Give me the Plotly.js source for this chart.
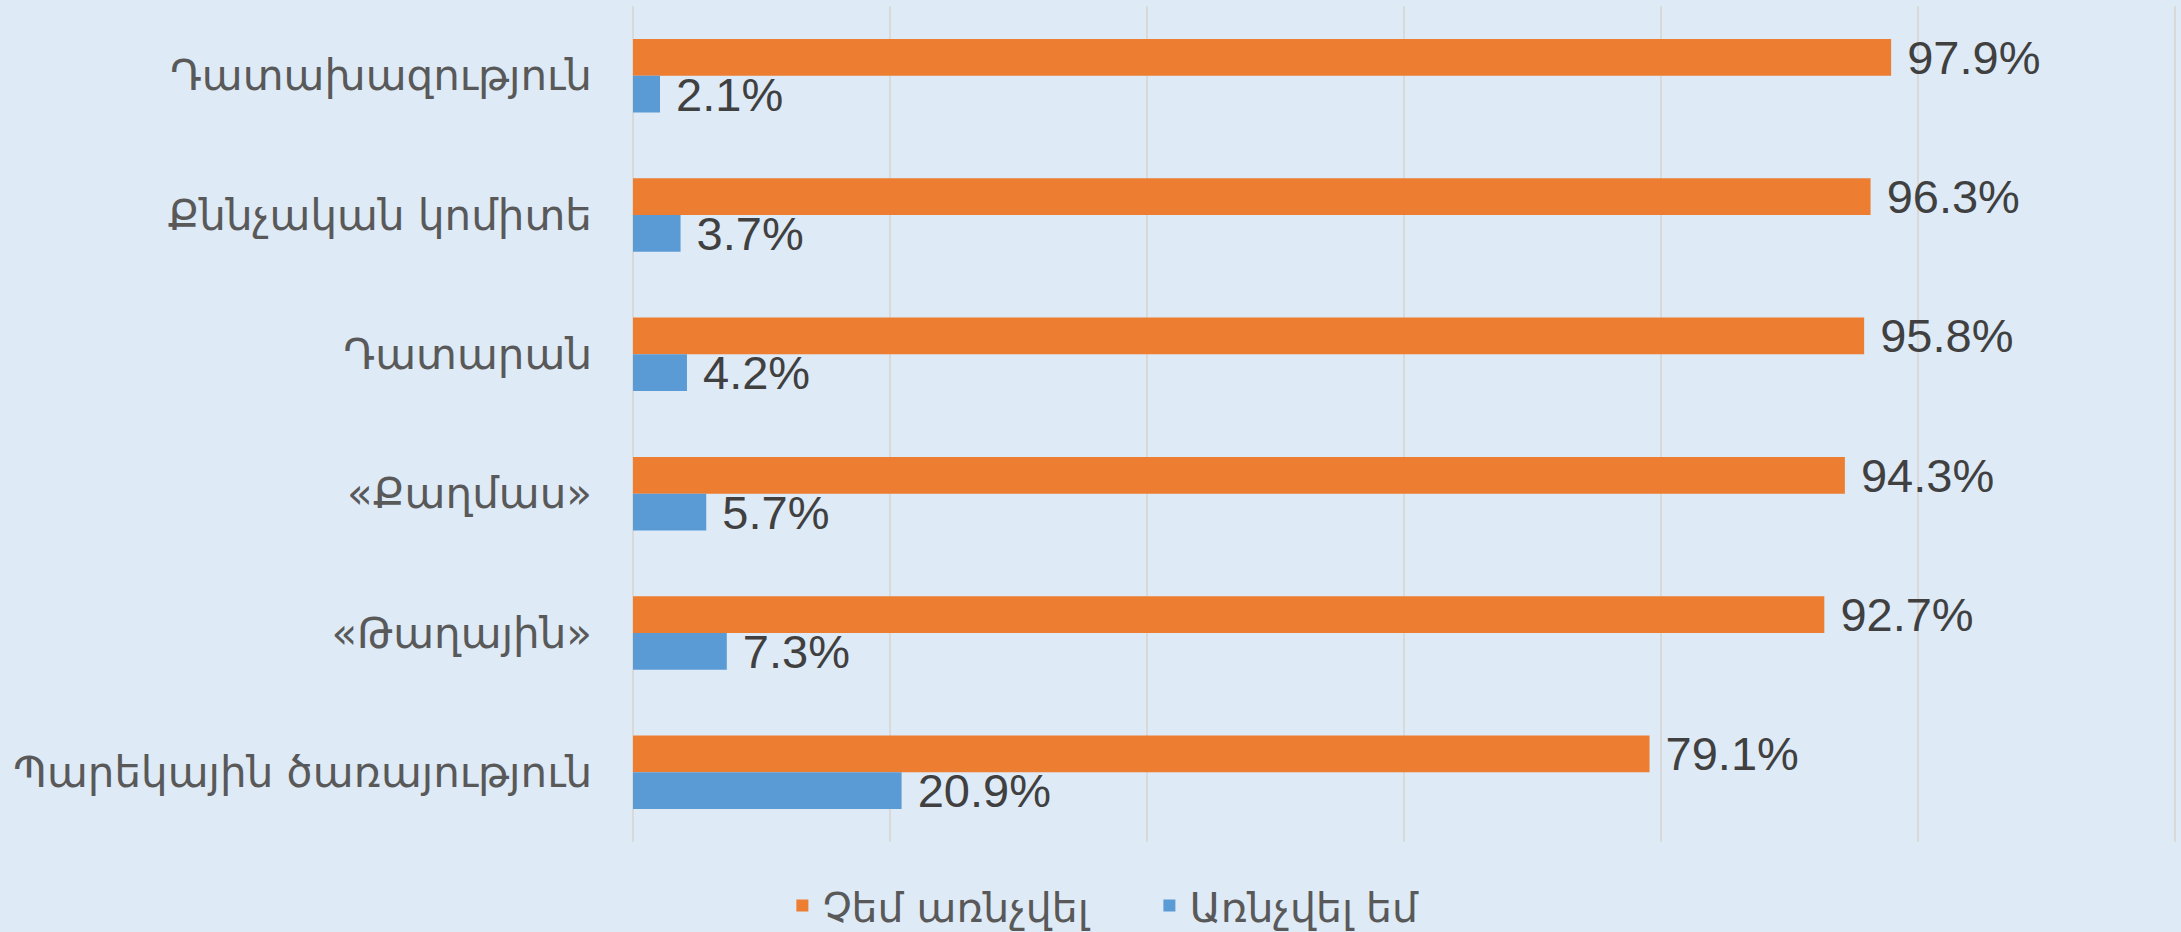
<!DOCTYPE html>
<html>
<head>
<meta charset="utf-8">
<script src="https://cdn.plot.ly/plotly-3.0.1.min.js"></script>
<style>html,body{margin:0;padding:0;background:#DEEAF6;}</style>
</head>
<body>
<div id="chart" style="width:2181px;height:932px;"></div>
<script>
const categories = [
  "Դատախազություն",
  "Քննչական կոմիտե",
  "Դատարան",
  "«Քաղմաս»",
  "«Թաղային»",
  "Պարեկային ծառայություն"
];
const seriesNames = ["Չեմ առնչվել", "Առնչվել եմ"];
const notContacted = [97.9, 96.3, 95.8, 94.3, 92.7, 79.1];
const contacted = [2.1, 3.7, 4.2, 5.7, 7.3, 20.9];

const labelFont = {family: "Liberation Sans, Arial, sans-serif", size: 47, color: "#404040"};
const catFont = "DejaVu Sans, Noto Sans, sans-serif";

const traces = [
  {
    type: "bar", orientation: "h", name: seriesNames[0],
    y: categories, x: notContacted,
    marker: {color: "#ED7D31"},
    texttemplate: "\u00a0%{x:.1f}%", textposition: "outside",
    constraintext: "none", cliponaxis: false,
    textfont: labelFont, hoverinfo: "skip"
  },
  {
    type: "bar", orientation: "h", name: seriesNames[1],
    y: categories, x: contacted,
    marker: {color: "#5B9BD5"},
    texttemplate: "\u00a0%{x:.1f}%", textposition: "outside",
    constraintext: "none", cliponaxis: false,
    textfont: labelFont, hoverinfo: "skip"
  }
];

const layout = {
  width: 2181, height: 932,
  paper_bgcolor: "#DEEAF6", plot_bgcolor: "#DEEAF6",
  margin: {l: 633, r: 2, t: 6, b: 90},
  barmode: "group", bargap: 0.473, bargroupgap: 0,
  xaxis: {
    range: [0, 120.3], dtick: 20, tick0: 0,
    showgrid: true, gridcolor: "#D9D9D9", gridwidth: 1.5,
    zeroline: true, zerolinecolor: "#D9D9D9", zerolinewidth: 1.5,
    showticklabels: false, showline: false, fixedrange: true
  },
  yaxis: {
    type: "category", autorange: "reversed",
    showgrid: false, zeroline: false, showline: false,
    ticks: "", ticklabelstandoff: 40,
    tickfont: {family: catFont, size: 42, color: "#595959"}
  },
  showlegend: true,
  legend: {
    orientation: "h", xref: "container", yref: "container",
    x: 0.527, xanchor: "center", y: 0.028, yanchor: "middle",
    entrywidth: 322,
    font: {family: catFont, size: 41, color: "#595959"},
    bgcolor: "rgba(0,0,0,0)", itemclick: false, itemdoubleclick: false
  }
};

Plotly.newPlot("chart", traces, layout, {displayModeBar: false, staticPlot: true});
</script>
</body>
</html>
